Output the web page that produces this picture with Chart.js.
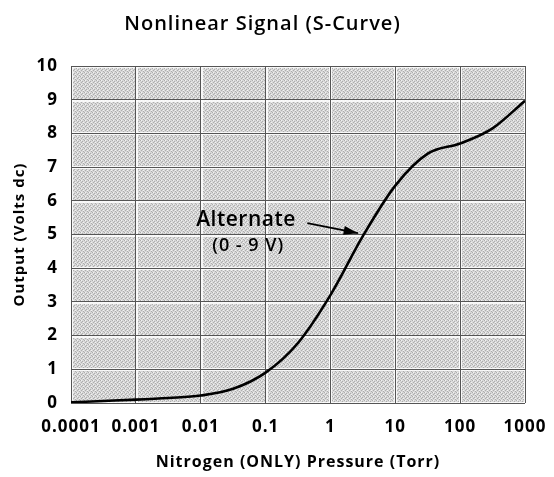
<!DOCTYPE html>
<html>
<head>
<meta charset="utf-8">
<script src="https://cdn.jsdelivr.net/npm/chart.js@4"></script>
<style>
  html, body { margin: 0; padding: 0; background: #fff; }
  #wrap { width: 554px; height: 477px; }
</style>
</head>
<body>
<div id="wrap"><canvas id="sCurve"></canvas></div>
<script>
// pressure (Torr), half-decade steps, and output (V dc)
const pressures = [0.0001, 0.000316, 0.001, 0.00316, 0.01, 0.0316, 0.1, 0.316,
                   1, 3.16, 10, 31.6, 100, 316, 1000];
const volts     = [0.02, 0.06, 0.1, 0.15, 0.22, 0.42, 0.9, 1.78,
                   3.2, 4.95, 6.45, 7.4, 7.7, 8.15, 8.97];
const xTicks = [0.0001, 0.001, 0.01, 0.1, 1, 10, 100, 1000];
const yTicks = [0, 1, 2, 3, 4, 5, 6, 7, 8, 9, 10];

const FONT = '"Open Sans", "DejaVu Sans", sans-serif';

// the original lettering is set quite wide
const spacing = {
    id: 'spacing',
    beforeUpdate(chart) { chart.ctx.letterSpacing = '1px'; },
    beforeDraw(chart) { chart.ctx.letterSpacing = '1px'; }
};

// small fixed dither tile to imitate the grey screen of the print
function stipple(ctx) {
    const tile = document.createElement('canvas');
    tile.width = 4; tile.height = 4;
    const t = tile.getContext('2d');
    t.fillStyle = '#d8d8d8';
    t.fillRect(0, 0, 4, 4);
    t.fillStyle = '#adadad';
    [[0, 0], [2, 1], [1, 2], [3, 3]].forEach(([x, y]) => t.fillRect(x, y, 1, 1));
    t.fillStyle = '#f2f2f2';
    [[1, 0], [3, 2]].forEach(([x, y]) => t.fillRect(x, y, 1, 1));
    return ctx.createPattern(tile, 'repeat');
}

const plotBackground = {
    id: 'plotBackground',
    beforeDraw(chart) {
        const { ctx, chartArea: a, scales } = chart;
        ctx.save();
        ctx.fillStyle = stipple(ctx);
        ctx.fillRect(a.left, a.top, a.right - a.left, a.bottom - a.top);
        ctx.strokeStyle = 'rgba(255,255,255,0.85)';
        ctx.lineWidth = 3;
        xTicks.forEach(v => {
            const px = Math.round(scales.x.getPixelForValue(v)) + 0.5;
            ctx.beginPath(); ctx.moveTo(px, a.top); ctx.lineTo(px, a.bottom); ctx.stroke();
        });
        yTicks.forEach(v => {
            const py = Math.round(scales.y.getPixelForValue(v)) + 0.5;
            ctx.beginPath(); ctx.moveTo(a.left, py); ctx.lineTo(a.right, py); ctx.stroke();
        });
        ctx.restore();
    }
};

// "Alternate (0 - 9 V)" callout, placed in data units
const callout = {
    id: 'callout',
    afterDatasetsDraw(chart) {
        const { ctx, scales } = chart;
        const x = scales.x, y = scales.y;
        ctx.save();
        ctx.fillStyle = '#000';
        ctx.textAlign = 'center';
        ctx.textBaseline = 'middle';
        ctx.letterSpacing = '0.5px';
        ctx.font = '600 21px ' + FONT;
        ctx.fillText('Alternate', x.getPixelForValue(0.05), y.getPixelForValue(5.43));
        ctx.letterSpacing = '1px';
        ctx.font = '600 18px ' + FONT;
        ctx.fillText('(0 - 9 V)', x.getPixelForValue(0.054), y.getPixelForValue(4.66));

        const x0 = x.getPixelForValue(0.44), y0 = y.getPixelForValue(5.34);
        const x1 = x.getPixelForValue(2.66), y1 = y.getPixelForValue(5.04);
        ctx.strokeStyle = '#000';
        ctx.lineWidth = 1.8;
        ctx.beginPath(); ctx.moveTo(x0, y0); ctx.lineTo(x1, y1); ctx.stroke();
        const ang = Math.atan2(y1 - y0, x1 - x0);
        ctx.beginPath();
        ctx.moveTo(x1, y1);
        ctx.lineTo(x1 - 15 * Math.cos(ang - 0.3), y1 - 15 * Math.sin(ang - 0.3));
        ctx.lineTo(x1 - 15 * Math.cos(ang + 0.3), y1 - 15 * Math.sin(ang + 0.3));
        ctx.closePath();
        ctx.fill();
        ctx.restore();
    }
};

new Chart(document.getElementById('sCurve'), {
    type: 'line',
    data: {
        datasets: [{
            data: pressures.map((p, i) => ({ x: p, y: volts[i] })),
            borderColor: '#000',
            borderWidth: 2.6,
            pointRadius: 0,
            fill: false,
            cubicInterpolationMode: 'monotone'
        }]
    },
    options: {
        responsive: true,
        maintainAspectRatio: false,
        animation: false,
        layout: { padding: { left: 0, right: 29, top: 0, bottom: 4 } },
        plugins: {
            legend: { display: false },
            tooltip: { enabled: false },
            title: {
                display: true,
                text: 'Nonlinear Signal (S-Curve)',
                color: '#000',
                font: { family: FONT, size: 20, weight: '600' },
                padding: { top: 12, bottom: 30 }
            }
        },
        scales: {
            x: {
                type: 'logarithmic',
                min: 0.0001,
                max: 1000,
                afterBuildTicks: s => { s.ticks = xTicks.map(v => ({ value: v })); },
                afterFit: s => { s.height = 70; s.paddingLeft = 0; s.paddingRight = 0; },
                ticks: {
                    color: '#000',
                    font: { family: FONT, size: 17, weight: 'bold' },
                    maxRotation: 0,
                    autoSkip: false,
                    padding: 14,
                    callback: v => String(v)
                },
                grid: { color: '#555', lineWidth: 1, drawTicks: false },
                border: { display: false },
                title: {
                    display: true,
                    text: 'Nitrogen (ONLY) Pressure (Torr)',
                    color: '#000',
                    font: { family: FONT, size: 16, weight: 'bold' },
                    padding: { top: 14, bottom: 1 }
                }
            },
            y: {
                min: 0,
                max: 10,
                afterBuildTicks: s => { s.ticks = yTicks.map(v => ({ value: v })); },
                afterFit: s => { s.width = 71; },
                ticks: {
                    color: '#000',
                    font: { family: FONT, size: 17, weight: 'bold' },
                    padding: 13
                },
                grid: { color: '#555', lineWidth: 1, drawTicks: false },
                border: { display: false },
                title: {
                    display: true,
                    text: 'Output (Volts dc)',
                    color: '#000',
                    font: { family: FONT, size: 15, weight: 'bold' },
                    padding: { top: 11, bottom: 8 }
                }
            }
        }
    },
    plugins: [spacing, plotBackground, callout]
});
</script>
</body>
</html>
